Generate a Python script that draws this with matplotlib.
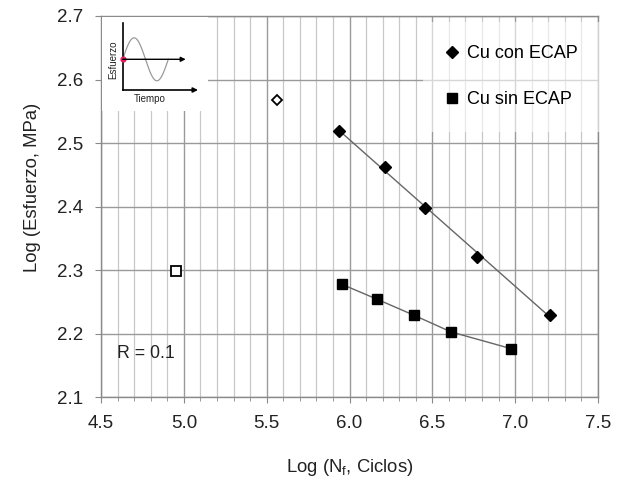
import numpy as np
import matplotlib
matplotlib.use('Agg')
import matplotlib.pyplot as plt
from matplotlib.ticker import MultipleLocator

plt.rcParams['font.family'] = ['Liberation Sans', 'DejaVu Sans']

# Cu con ECAP (diamantes)
x_con = [5.934, 6.216, 6.458, 6.77, 7.213]
y_con = [2.519, 2.462, 2.397, 2.321, 2.229]
# Cu sin ECAP (cuadrados)
x_sin = [5.954, 6.166, 6.387, 6.613, 6.977]
y_sin = [2.2775, 2.254, 2.229, 2.2025, 2.176]
# puntos abiertos
x_abierto_con = [5.562]
y_abierto_con = [2.567]
x_abierto_sin = [4.953]
y_abierto_sin = [2.298]

xticks = [4.5, 5.0, 5.5, 6.0, 6.5, 7.0, 7.5]
yticks = [2.1, 2.2, 2.3, 2.4, 2.5, 2.6, 2.7]

W, H = 624, 479
fig = plt.figure(figsize=(W / 100, H / 100), dpi=100)
ax = fig.add_axes([101 / W, 1 - 397 / H, 497 / W, 381 / H])

ax.set_xlim(4.5, 7.5)
ax.set_ylim(2.1, 2.7)
ax.set_xticks(xticks)
ax.set_xticklabels([f'{v:.1f}' for v in xticks])
ax.set_yticks(yticks)
ax.set_yticklabels([f'{v:.1f}' for v in yticks])
ax.xaxis.set_minor_locator(MultipleLocator(0.1))

# rejilla estilo Excel
ax.grid(which='major', axis='both', color='#9a9a9a', lw=1.0)
ax.grid(which='minor', axis='x', color='#c8c8c8', lw=0.9)
ax.set_axisbelow(True)
for s in ax.spines.values():
    s.set_color('#8a8a8a')
    s.set_linewidth(1.0)
ax.tick_params(which='both', direction='out', color='#8a8a8a', length=4,
               labelsize=13.5, labelcolor='#222222')
ax.tick_params(axis='x', which='major', pad=9)
ax.tick_params(axis='y', which='major', pad=9)
ax.tick_params(axis='x', which='minor', length=3)

# linea de tendencia lineal (con ECAP) y union de puntos (sin ECAP)
m, b = np.polyfit(x_con, y_con, 1)
xf = np.array([x_con[0], x_con[-1]])
ax.plot(xf, m * xf + b, '-', color='#666666', lw=1.0, zorder=3)
ax.plot(x_sin, y_sin, '-', color='#666666', lw=1.0, zorder=3)

ax.plot(x_con, y_con, 'D', color='black', ms=6.5, ls='none', zorder=4,
        label='Cu con ECAP')
ax.plot(x_sin, y_sin, 's', color='black', ms=7.5, ls='none', zorder=4,
        label='Cu sin ECAP')
ax.plot(x_abierto_con, y_abierto_con, 'D', mfc='white', mec='black', mew=1.3,
        ms=5.5, zorder=4)
ax.plot(x_abierto_sin, y_abierto_sin, 's', mfc='white', mec='black', mew=1.3,
        ms=7.5, zorder=4)

leg = ax.legend(loc='upper left', bbox_to_anchor=(0.648, 0.985), fontsize=13,
                frameon=True, framealpha=0.6, edgecolor='none', fancybox=False,
                handlelength=0.6, handletextpad=0.55, labelspacing=1.6,
                borderpad=1.3, borderaxespad=0)
leg.get_frame().set_linewidth(0)

ax.text(4.597, 2.169, 'R = 0.1', fontsize=12.8, color='#222222', va='center')

ax.set_xlabel('Log (N$_\\mathregular{f}$, Ciclos)', fontsize=13.3, color='#222222')
ax.xaxis.set_label_coords(0.5, -(468 - 397) / 381)
ax.xaxis.label.set_va('center')
ax.set_ylabel('Log (Esfuerzo, MPa)', fontsize=13.3, color='#222222')
ax.yaxis.set_label_coords(-0.121, 0.55)

# esquema del ciclo de carga (recuadro)
ins = fig.add_axes([101.5 / W, 1 - 111 / H, 106 / W, 94 / H])
ins.set_xlim(101.5, 207.5)
ins.set_ylim(111, 17)
ins.set_facecolor('white')
ins.set_xticks([])
ins.set_yticks([])
for s in ins.spines.values():
    s.set_visible(False)
t = np.linspace(122.7, 168.3, 200)
ins.plot(t, 59.3 - 21.5 * np.sin(2 * np.pi * (t - 122.7) / 45.6),
         color='#9a9a9a', lw=0.9)
ins.plot([122.7, 122.7], [22.7, 90], color='black', lw=1.2)
ins.annotate('', xy=(198, 90), xytext=(122.7, 90),
             arrowprops=dict(arrowstyle='-|>', color='black', lw=1.2,
                             mutation_scale=7, shrinkA=0, shrinkB=0))
ins.annotate('', xy=(185.7, 59.3), xytext=(122.7, 59.3),
             arrowprops=dict(arrowstyle='-|>', color='black', lw=1.0,
                             mutation_scale=7, shrinkA=0, shrinkB=0))
ins.plot([122.7], [59.3], 'o', color='#e8205a', ms=3.5)
ins.text(113.3, 60, 'Esfuerzo', rotation=90, fontsize=7, ha='center',
         va='center', color='#222222')
ins.text(150, 99.5, 'Tiempo', fontsize=7, ha='center', va='center',
         color='#222222')

fig.savefig('out.png', dpi=100)
